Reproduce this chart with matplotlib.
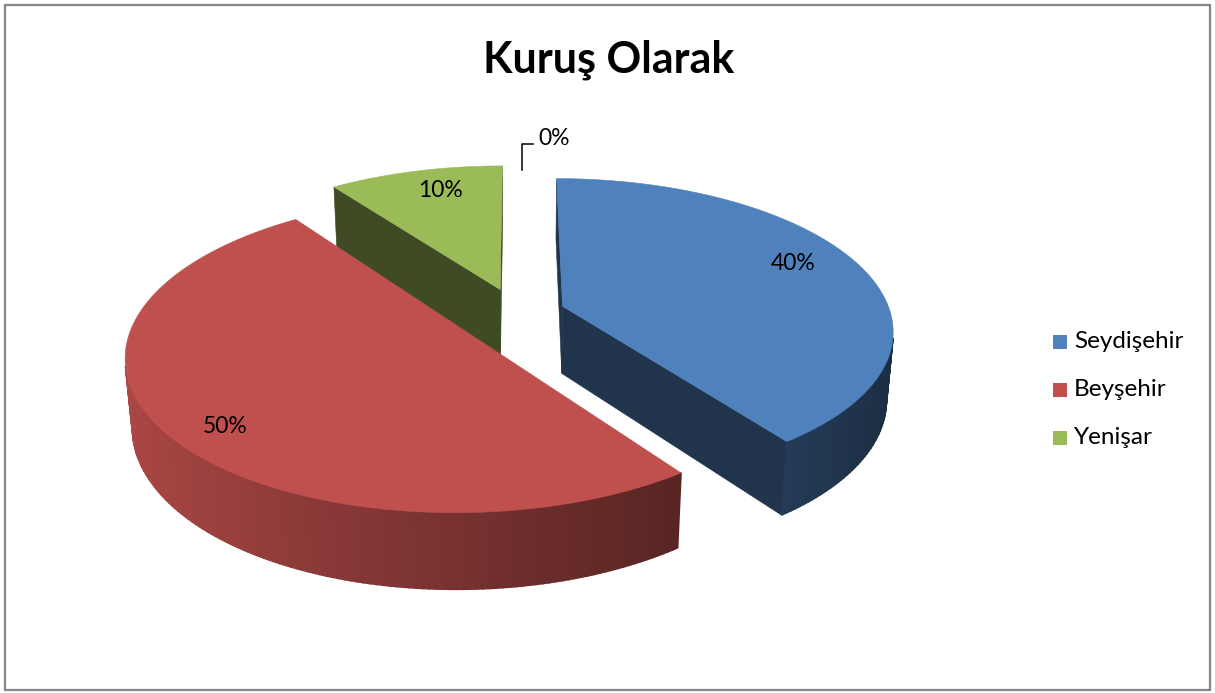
import numpy as np
import matplotlib.pyplot as plt
from matplotlib.patches import Polygon, Rectangle

plt.rcParams['font.family'] = ['Lato', 'DejaVu Sans']

title = "Kuruş Olarak"
categories = ["Seydişehir", "Beyşehir", "Yenişar", ""]
values = [40, 50, 10, 0]
explode = [0.147, 0.195, 0.17, 0.17]
colors = ["#4f81bd", "#c0504d", "#9bbb59", "#8064a2"]

# layout of the fake 3d view, in pixels / radius units
W, H = 1215, 693
CX, CY = 517, 313
SCALE = 328
DIST = 1 / 0.17
ELEV = np.radians(27)
THICK = 0.235
CAM = np.array([0.0, DIST * np.sin(ELEV), DIST * np.cos(ELEV)])


def project(p):
    x, y, z = p
    d = DIST - (y * np.sin(ELEV) + z * np.cos(ELEV))
    v = y * np.cos(ELEV) - z * np.sin(ELEV)
    k = SCALE * DIST / d
    return CX + x * k, CY - v * k


def rim(off, t, y, r=1.0):
    return np.array([off[0] + r * np.sin(t), y, off[2] - r * np.cos(t)])


def shade(color, f):
    rgb = np.array(plt.matplotlib.colors.to_rgb(color))
    return tuple(np.clip(rgb * f, 0, 1))


def facing(normal, point):
    return np.dot(normal, CAM - point) > 0


def face(ax, pts, color, lw=0.4):
    xy = [project(p) for p in pts]
    ax.add_patch(Polygon(xy, closed=True, facecolor=color, edgecolor=color, lw=lw))


def draw_slice(ax, t1, t2, off, color):
    c_top = np.array([off[0], 0.0, off[2]])
    c_bot = np.array([off[0], -THICK, off[2]])

    # radial cut faces
    for t, n in [(t1, -np.array([np.cos(t1), 0, np.sin(t1)])),
                 (t2, np.array([np.cos(t2), 0, np.sin(t2)]))]:
        if facing(n, c_top):
            face(ax, [c_top, rim(off, t, 0), rim(off, t, -THICK), c_bot], shade(color, 0.4))

    # curved outer side, strip by strip
    ts = np.linspace(t1, t2, max(int(np.degrees(t2 - t1)), 2) + 1)
    for a, b in zip(ts[:-1], ts[1:]):
        m = (a + b) / 2
        n = np.array([np.sin(m), 0, -np.cos(m)])
        if facing(n, rim(off, m, 0)):
            f = 0.62 - 0.28 * np.sin(m)
            face(ax, [rim(off, a, 0), rim(off, b, 0), rim(off, b, -THICK), rim(off, a, -THICK)],
                 shade(color, f), lw=1.2)

    # top
    arc = [rim(off, t, 0) for t in np.linspace(t1, t2, 200)]
    face(ax, [c_top] + arc, color)


fig = plt.figure(figsize=(W / 100, H / 100), dpi=100)
ax = fig.add_axes([0, 0, 1, 1])
ax.set_xlim(0, W)
ax.set_ylim(H, 0)
ax.axis('off')

total = sum(values)
starts = np.radians(np.cumsum([0] + values[:-1]) / total * 360)
ends = np.radians(np.cumsum(values) / total * 360)
mids = (starts + ends) / 2
offsets = [np.array([e * np.sin(m), 0, -e * np.cos(m)]) for e, m in zip(explode, mids)]

# back slices first
order = sorted(range(len(values)), key=lambda i: offsets[i][2])
for i in order:
    if values[i] > 0:
        draw_slice(ax, starts[i], ends[i], offsets[i], colors[i])

# data labels
label_nudge = [(-7, -8), (-2, 18), (10, -2)]
for i, v in enumerate(values):
    pct = f"{round(v / total * 100)}%"
    if v > 0:
        x, y = project(rim(offsets[i], mids[i], 0, r=0.8))
        dx, dy = label_nudge[i]
        ax.text(x + dx, y + dy, pct, ha='center', va='center', fontsize=16.5, color='black')
    else:
        bx, by = project(rim(offsets[i], mids[i], 0))
        ax.plot([bx + 5, bx + 5, bx + 16], [by + 5, by - 21, by - 21], color='black', lw=1.1)
        ax.text(bx + 21, by - 27, pct, ha='left', va='center', fontsize=16.5, color='black')

ax.text(609, 72, title, ha='center', va='baseline', fontsize=31, fontweight='bold')

# legend
for k, name in enumerate(categories[:3]):
    y = 342 + k * 48
    ax.add_patch(Rectangle((1053, y - 7), 14, 14, facecolor=colors[k], edgecolor='none'))
    ax.text(1074, y, name, ha='left', va='center', fontsize=17.5)

ax.add_patch(Rectangle((5, 4.5), 1205, 685.5, fill=False, edgecolor='#868686', lw=1.6))

fig.savefig("out.png", dpi=100)
